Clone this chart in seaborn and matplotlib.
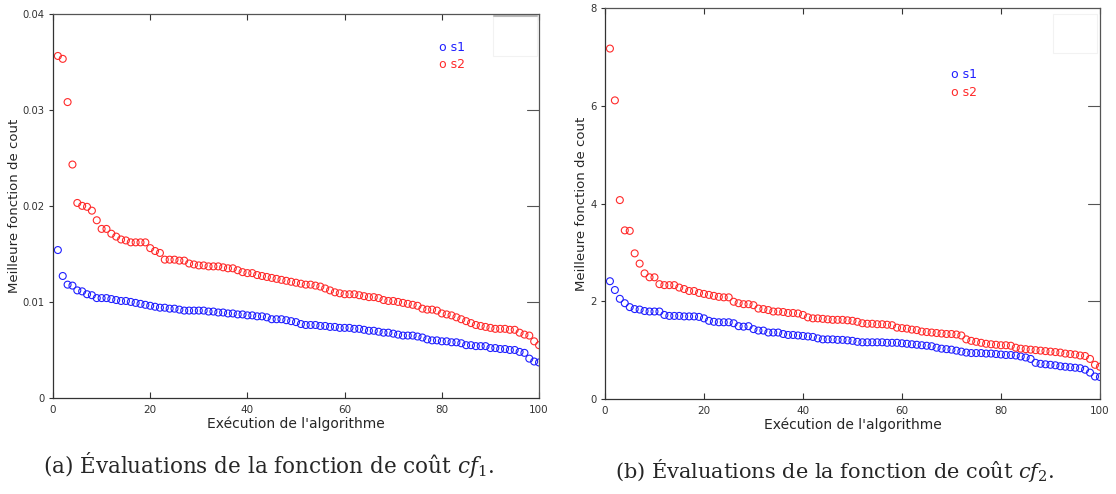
import numpy as np
import pandas as pd
import matplotlib
matplotlib.use("Agg")
import matplotlib.pyplot as plt
import seaborn as sns
from matplotlib.patches import Rectangle

runs = list(range(1, 101))

cf1_s1 = [0.0154, 0.0127, 0.0118, 0.0117, 0.0112, 0.0111, 0.0108, 0.0107, 0.0104, 0.0104,
          0.0104, 0.0103, 0.0102, 0.0101, 0.0101, 0.0100, 0.0099, 0.0098, 0.0097, 0.0096,
          0.0095, 0.0094, 0.0094, 0.0093, 0.0093, 0.0092, 0.0091, 0.0091, 0.0091, 0.0091,
          0.0091, 0.0090, 0.0090, 0.0089, 0.0089, 0.0088, 0.0088, 0.0087, 0.0087, 0.0086,
          0.0086, 0.0085, 0.0085, 0.0084, 0.0082, 0.0082, 0.0082, 0.0081, 0.0080, 0.0079,
          0.0077, 0.0076, 0.0076, 0.0076, 0.0075, 0.0075, 0.0074, 0.0074, 0.0073, 0.0073,
          0.0073, 0.0072, 0.0072, 0.0071, 0.0070, 0.0070, 0.0069, 0.0068, 0.0068, 0.0067,
          0.0066, 0.0065, 0.0065, 0.0065, 0.0064, 0.0063, 0.0061, 0.0060, 0.0060, 0.0059,
          0.0059, 0.0058, 0.0058, 0.0057, 0.0055, 0.0055, 0.0054, 0.0054, 0.0054, 0.0052,
          0.0052, 0.0051, 0.0051, 0.0050, 0.0050, 0.0048, 0.0047, 0.0041, 0.0038, 0.0037]

cf1_s2 = [0.0356, 0.0353, 0.0308, 0.0243, 0.0203, 0.0200, 0.0199, 0.0195, 0.0185, 0.0176,
          0.0176, 0.0171, 0.0168, 0.0165, 0.0164, 0.0162, 0.0162, 0.0162, 0.0162, 0.0156,
          0.0153, 0.0151, 0.0144, 0.0144, 0.0144, 0.0143, 0.0143, 0.0140, 0.0139, 0.0138,
          0.0138, 0.0137, 0.0137, 0.0137, 0.0136, 0.0135, 0.0135, 0.0133, 0.0131, 0.0130,
          0.0130, 0.0128, 0.0127, 0.0126, 0.0125, 0.0124, 0.0123, 0.0122, 0.0121, 0.0120,
          0.0119, 0.0118, 0.0118, 0.0117, 0.0116, 0.0114, 0.0112, 0.0110, 0.0109, 0.0108,
          0.0108, 0.0108, 0.0107, 0.0106, 0.0105, 0.0105, 0.0104, 0.0102, 0.0101, 0.0101,
          0.0100, 0.0099, 0.0098, 0.0097, 0.0096, 0.0093, 0.0092, 0.0092, 0.0091, 0.0088,
          0.0087, 0.0086, 0.0084, 0.0082, 0.0080, 0.0078, 0.0076, 0.0075, 0.0074, 0.0073,
          0.0072, 0.0072, 0.0072, 0.0071, 0.0071, 0.0068, 0.0066, 0.0065, 0.0059, 0.0055]

cf2_s1 = [2.41, 2.23, 2.05, 1.96, 1.88, 1.84, 1.83, 1.80, 1.79, 1.79,
          1.79, 1.72, 1.70, 1.70, 1.70, 1.69, 1.69, 1.69, 1.68, 1.65,
          1.60, 1.58, 1.57, 1.57, 1.57, 1.55, 1.49, 1.48, 1.49, 1.43,
          1.40, 1.40, 1.36, 1.36, 1.36, 1.33, 1.31, 1.31, 1.30, 1.29,
          1.28, 1.27, 1.24, 1.22, 1.22, 1.22, 1.21, 1.21, 1.20, 1.19,
          1.17, 1.16, 1.16, 1.16, 1.16, 1.16, 1.15, 1.15, 1.15, 1.14,
          1.13, 1.12, 1.11, 1.10, 1.09, 1.08, 1.05, 1.03, 1.02, 1.01,
          0.99, 0.97, 0.95, 0.94, 0.94, 0.94, 0.93, 0.93, 0.92, 0.91,
          0.90, 0.90, 0.89, 0.87, 0.85, 0.82, 0.74, 0.72, 0.71, 0.70,
          0.69, 0.67, 0.66, 0.65, 0.64, 0.63, 0.60, 0.54, 0.46, 0.45]

cf2_s2 = [7.17, 6.11, 4.07, 3.45, 3.44, 2.98, 2.77, 2.57, 2.49, 2.49,
          2.35, 2.33, 2.33, 2.33, 2.28, 2.25, 2.21, 2.21, 2.17, 2.15,
          2.13, 2.11, 2.09, 2.08, 2.08, 1.99, 1.96, 1.94, 1.94, 1.92,
          1.85, 1.84, 1.82, 1.79, 1.79, 1.78, 1.76, 1.76, 1.75, 1.72,
          1.67, 1.65, 1.65, 1.64, 1.63, 1.62, 1.62, 1.62, 1.61, 1.60,
          1.58, 1.55, 1.54, 1.54, 1.53, 1.53, 1.52, 1.51, 1.46, 1.45,
          1.44, 1.42, 1.41, 1.38, 1.37, 1.36, 1.35, 1.34, 1.33, 1.33,
          1.32, 1.30, 1.22, 1.19, 1.17, 1.15, 1.13, 1.12, 1.11, 1.10,
          1.10, 1.09, 1.05, 1.03, 1.02, 1.01, 1.00, 0.99, 0.98, 0.97,
          0.96, 0.95, 0.93, 0.92, 0.91, 0.89, 0.88, 0.82, 0.70, 0.66]

x_ticks = [0, 20, 40, 60, 80, 100]
cf1_yticks = [0, 0.01, 0.02, 0.03, 0.04]
cf1_ylabels = ["0", "0.01", "0.02", "0.03", "0.04"]
cf2_yticks = [0, 2, 4, 6, 8]
cf2_ylabels = ["0", "2", "4", "6", "8"]

captions = [r"(a) Évaluations de la fonction de coût $cf_1$.",
            r"(b) Évaluations de la fonction de coût $cf_2$."]

colors = {"s1": "#1f1fff", "s2": "#ff2a2a"}

sns.set_style("white")
plt.rcParams["font.family"] = ["DejaVu Sans"]
plt.rcParams["mathtext.fontset"] = "dejavuserif"


def draw_panel(ax, s1, s2, ymax, yticks, ylabels, leg_xy, box, ylab_x):
    # une série à la fois, marqueurs vides
    for name, vals in [("s1", s1), ("s2", s2)]:
        sns.scatterplot(x=runs, y=vals, color=colors[name], marker="o", s=25,
                        linewidth=0.8, legend=False, ax=ax)
        coll = ax.collections[-1]
        coll.set_facecolor("none")
        coll.set_edgecolor(colors[name])
    ax.set_xlim(0, 100)
    ax.set_ylim(0, ymax)
    ax.set_xticks(x_ticks)
    ax.set_xticklabels([str(t) for t in x_ticks])
    ax.set_yticks(yticks)
    ax.set_yticklabels(ylabels)
    ax.set_xlabel("Exécution de l'algorithme", fontsize=10, labelpad=1)
    ax.set_ylabel("Meilleure fonction de cout", fontsize=9.5)
    ax.yaxis.set_label_coords(ylab_x, 0.5)
    ax.tick_params(axis="x", direction="in", top=True, bottom=True, length=4,
                   labelsize=7.5, colors="#333333", pad=5)
    ax.tick_params(axis="y", direction="out", left=True, length=3,
                   labelsize=7.2, colors="#333333", pad=3)
    ax.tick_params(axis="y", which="both", right=False)
    for y in yticks[1:-1]:
        ax.plot([97.5, 100], [y, y], color="#555555", lw=0.8, clip_on=False)
    for s in ["left", "bottom"]:
        ax.spines[s].set_color("#333333")
        ax.spines[s].set_linewidth(0.9)
    for s in ["top", "right"]:
        ax.spines[s].set_color("#555555")
        ax.spines[s].set_linewidth(0.9)
    ax.text(leg_xy[0], leg_xy[1], "o s1", color=colors["s1"], fontsize=9,
            transform=ax.transAxes, va="center")
    ax.text(leg_xy[0], leg_xy[1] - 0.045, "o s2", color=colors["s2"], fontsize=9,
            transform=ax.transAxes, va="center")
    ax.add_patch(Rectangle(box[0], box[1], box[2], transform=ax.transAxes,
                           facecolor="none", edgecolor="#f2f2f2", lw=0.8))


fig = plt.figure(figsize=(11.16, 4.94), dpi=100)
ax1 = fig.add_axes([0.0475, 0.1943, 0.4355, 0.778])
ax2 = fig.add_axes([0.5421, 0.1923, 0.4435, 0.7915])

draw_panel(ax1, cf1_s1, cf1_s2, 0.04, cf1_yticks, cf1_ylabels,
           (0.795, 0.912), ((0.905, 0.89), 0.09, 0.105), -0.066)
ax1.plot([0.907, 0.995], [0.995, 0.995], color="#bbbbbb", lw=1.5,
         transform=ax1.transAxes)
draw_panel(ax2, cf2_s1, cf2_s2, 8, cf2_yticks, cf2_ylabels,
           (0.70, 0.83), ((0.905, 0.885), 0.09, 0.1), -0.034)

fig.text(0.241, 0.058, captions[0], fontsize=15.5, family="DejaVu Serif",
         ha="center", va="center")
fig.text(0.748, 0.048, captions[1], fontsize=15, family="DejaVu Serif",
         ha="center", va="center")

fig.savefig("out.png", dpi=100)
